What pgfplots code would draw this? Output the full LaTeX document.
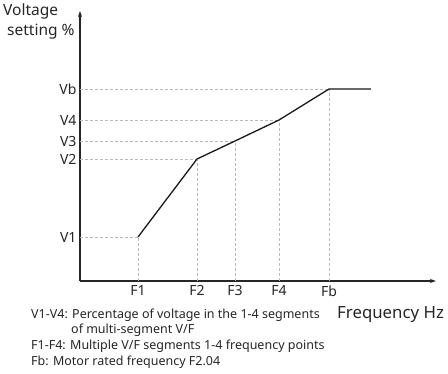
\documentclass[border=0pt]{standalone}
\usepackage{fontspec}
\setmainfont{Noto Sans}
\usepackage{pgfplots}
\pgfplotsset{compat=1.18}
\usetikzlibrary{arrows.meta}
\begin{document}
\begin{tikzpicture}
\begin{axis}[
  x=1pt, y=1pt,
  xmin=0, xmax=356, ymin=0, ymax=270,
  axis lines=left,
  axis line style={line width=1.2pt, black!85, -{Stealth[length=6pt,width=4pt]}},
  major tick length=0pt,
  xtick={58,117,155,199,249},
  xticklabels={\mbox{F1},\mbox{F2},\mbox{F3},\mbox{F4},\mbox{Fb}},
  ytick={44,122,140,161,192},
  yticklabels={\mbox{V1},\mbox{V2},\mbox{V3},\mbox{V4},\mbox{Vb}},
  ticklabel style={font=\fontsize{14}{17}\selectfont, black!85},
  xticklabel style={yshift=-1pt},
  clip=false,
]
% dashed guide lines
\addplot[gray!55, line width=0.8pt, dash pattern=on 3pt off 2pt] coordinates {(0,44) (58,44)};
\addplot[gray!55, line width=0.8pt, dash pattern=on 3pt off 2pt] coordinates {(58,0) (58,44)};
\addplot[gray!55, line width=0.8pt, dash pattern=on 3pt off 2pt] coordinates {(0,122) (117,122)};
\addplot[gray!55, line width=0.8pt, dash pattern=on 3pt off 2pt] coordinates {(117,0) (117,122)};
\addplot[gray!55, line width=0.8pt, dash pattern=on 3pt off 2pt] coordinates {(0,140) (155,140)};
\addplot[gray!55, line width=0.8pt, dash pattern=on 3pt off 2pt] coordinates {(155,0) (155,140)};
\addplot[gray!55, line width=0.8pt, dash pattern=on 3pt off 2pt] coordinates {(0,161) (199,161)};
\addplot[gray!55, line width=0.8pt, dash pattern=on 3pt off 2pt] coordinates {(199,0) (199,161)};
\addplot[gray!55, line width=0.8pt, dash pattern=on 3pt off 2pt] coordinates {(0,192) (249,192)};
\addplot[gray!55, line width=0.8pt, dash pattern=on 3pt off 2pt] coordinates {(249,0) (249,192)};
% V/F curve
\addplot[black!90, line width=1.3pt] coordinates {(58,44) (117,122) (155,140) (199,161) (249,192) (291,192)};
% labels
\node[anchor=base west, font=\fontsize{15.5}{19}\selectfont, inner sep=0pt, black!85] at (axis cs:-77,265.3) {Voltage};
\node[anchor=base west, font=\fontsize{15.5}{19}\selectfont, inner sep=0pt, black!85] at (axis cs:-73,246) {setting \%};
\node[anchor=base west, font=\fontsize{16.8}{20}\selectfont, inner sep=0pt, black!85] at (axis cs:257,-37) {Frequency Hz};
\node[anchor=base west, font=\fontsize{12.5}{15}\selectfont, inner sep=0pt, black!85] at (axis cs:-49,-37) {V1-V4: Percentage of voltage in the 1-4 segments};
\node[anchor=base west, font=\fontsize{12.5}{15}\selectfont, inner sep=0pt, black!85] at (axis cs:-9,-52) {of multi-segment V/F};
\node[anchor=base west, font=\fontsize{12.5}{15}\selectfont, inner sep=0pt, black!85] at (axis cs:-49,-68) {F1-F4: Multiple V/F segments 1-4 frequency points};
\node[anchor=base west, font=\fontsize{12.5}{15}\selectfont, inner sep=0pt, black!85] at (axis cs:-49,-84) {Fb: Motor rated frequency F2.04};
\coordinate (bl) at (axis cs:-80,-92);
\coordinate (tr) at (axis cs:368,281);
\end{axis}
\pgfresetboundingbox
\useasboundingbox (bl) rectangle (tr);
\end{tikzpicture}
\end{document}
